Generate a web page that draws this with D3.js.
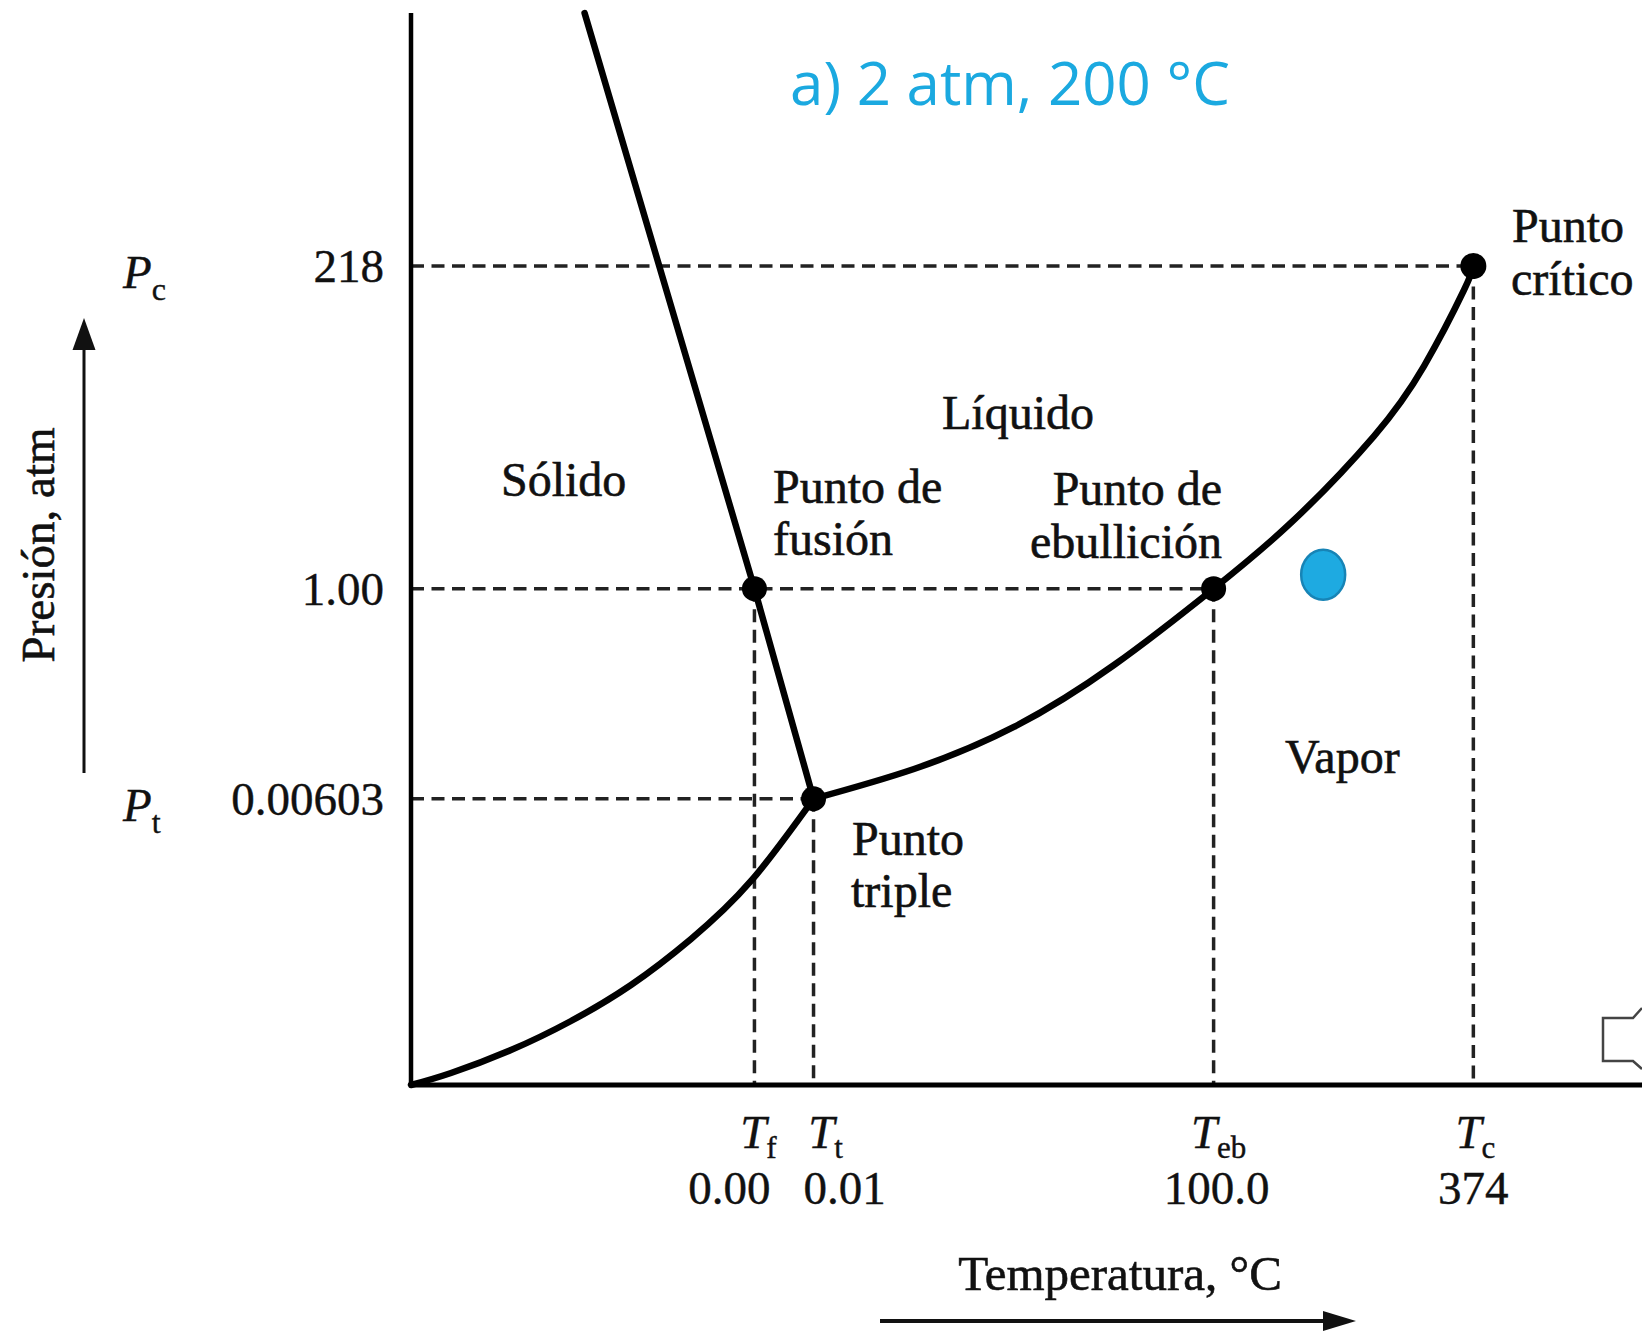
<!DOCTYPE html>
<html lang="es">
<head>
<meta charset="utf-8">
<title>Diagrama de fases del agua</title>
<script src="https://d3js.org/d3.v7.min.js"></script>
<style>
  body { margin: 0; background: #fff; }
  svg { display: block; }
  .lbl { font-family: "Liberation Serif", "DejaVu Serif", serif; fill: #111; stroke: #111; stroke-width: 0.6; }
  .tick { font-family: "Liberation Serif", serif; fill: #111; stroke: #111; stroke-width: 0.4; }
  .dash { fill: none; stroke: #222; stroke-width: 3.5; stroke-dasharray: 13 7.5; }
  .curve { fill: none; stroke: #000; stroke-width: 6.5; stroke-linejoin: round; stroke-linecap: round; }
</style>
</head>
<body>
<div id="chart"></div>
<script>
// diagram is schematic (not to scale) -> values in diagram units 0..100

// key states
var pointNames = ["fusion", "triple", "ebullicion", "critico"];
var pointX = [27.9, 32.7, 65.2, 86.3];
var pointY = [46.3, 26.7, 46.3, 76.4];

// x ticks (temperature)
var xTickPos = [27.9, 32.7, 65.2, 86.3];
var xTickSub = ["f", "t", "eb", "c"];
var xTickLabels = ["0.00", "0.01", "100.0", "374"];

// y ticks (pressure)
var yTickPos = [76.4, 46.3, 26.7];
var yTickLabels = ["218", "1.00", "0.00603"];
var yTickSub = ["c", "", "t"];

// phase boundaries
var sublimation = [[0, 0], [3.25, 1.12], [8.12, 3.26], [13.0, 5.97], [17.87, 9.33],
                   [22.75, 13.62], [27.62, 19.03], [32.7, 26.7]];
var vaporization = [[32.7, 26.7], [40.86, 29.48], [48.98, 33.4], [57.11, 39.18], [65.2, 46.3],
                    [71.73, 52.71], [78.23, 60.54], [82.29, 67.07], [85.54, 74.16], [86.3, 76.4]];
var melting = [[14.1, 100], [27.9, 46.3], [32.7, 26.7]];

// state asked for: 2 atm, 200 C
var marker = [74.1, 47.6];

var W = 1642, H = 1331;
var margin = {top: 13, right: 0, bottom: 246, left: 411},
    w = W - margin.left - margin.right,
    h = H - margin.top - margin.bottom;

var svg = d3.select("#chart").append("svg")
    .attr("width", W).attr("height", H);

var g = svg.append("g")
    .attr("transform", "translate(" + margin.left + "," + margin.top + ")");

var x = d3.scaleLinear().domain([0, 100]).range([0, w]);
var y = d3.scaleLinear().domain([0, 100]).range([h, 0]);

// dashed guides
var guides = g.append("g");
yTickPos.forEach(function(v, i) {
  var idx = [3, 2, 1][i];
  guides.append("line").attr("class", "dash")
    .attr("x1", x(0)).attr("x2", x(pointX[idx]))
    .attr("y1", y(v)).attr("y2", y(v));
});
xTickPos.forEach(function(v, i) {
  guides.append("line").attr("class", "dash")
    .attr("x1", x(v)).attr("x2", x(v))
    .attr("y1", y(pointY[i])).attr("y2", y(0));
});

// axes (plain lines, no ticks)
g.append("line").attr("x1", x(0)).attr("x2", x(0)).attr("y1", y(100)).attr("y2", y(0))
  .attr("stroke", "#000").attr("stroke-width", 4.5);
g.append("line").attr("x1", x(0) - 2).attr("x2", x(100)).attr("y1", y(0)).attr("y2", y(0))
  .attr("stroke", "#000").attr("stroke-width", 5);

// curves
var line = d3.line().x(function(d) { return x(d[0]); }).y(function(d) { return y(d[1]); });
g.append("path").attr("class", "curve").attr("d", line.curve(d3.curveNatural)(sublimation));
g.append("path").attr("class", "curve").attr("d", line.curve(d3.curveNatural)(vaporization));
g.append("path").attr("class", "curve").attr("d", line.curve(d3.curveLinear)(melting));

// points
g.selectAll(".pt").data(pointNames).enter().append("circle")
  .attr("class", "pt")
  .attr("cx", function(d, i) { return x(pointX[i]); })
  .attr("cy", function(d, i) { return y(pointY[i]); })
  .attr("r", function(d, i) { return i == 3 ? 13 : 12.5; })
  .attr("fill", "#000");

// blue marker
g.append("ellipse")
  .attr("cx", x(marker[0])).attr("cy", y(marker[1]))
  .attr("rx", 22).attr("ry", 25)
  .attr("fill", "#1eaae1").attr("stroke", "#1784b6").attr("stroke-width", 2.5);

// y tick labels
yTickLabels.forEach(function(t, i) {
  g.append("text").attr("class", "tick")
    .attr("x", -27).attr("y", y(yTickPos[i]) + 16)
    .attr("text-anchor", "end").style("font-size", "47px").text(t);
  if (yTickSub[i]) {
    var s = g.append("text").attr("class", "tick")
      .attr("x", 123 - margin.left).attr("y", y(yTickPos[i]) + 22)
      .style("font-size", "47px");
    s.append("tspan").style("font-style", "italic").text("P");
    s.append("tspan").attr("dy", 12).style("font-size", "32px").text(yTickSub[i]);
  }
});

// x tick labels
var symShift = [4, 12, 5, 2], numShift = [-25, 31, 3, 0];
xTickLabels.forEach(function(t, i) {
  var s = g.append("text").attr("class", "tick")
    .attr("x", x(xTickPos[i]) + symShift[i]).attr("y", h + 63)
    .attr("text-anchor", "middle").style("font-size", "47px");
  s.append("tspan").style("font-style", "italic").text("T");
  s.append("tspan").attr("dy", 10).style("font-size", "31px").text(xTickSub[i]);
  g.append("text").attr("class", "tick")
    .attr("x", x(xTickPos[i]) + numShift[i]).attr("y", h + 119)
    .attr("text-anchor", "middle").style("font-size", "47px").text(t);
});

// region and point labels
var labels = [
  {t: ["Sólido"], px: [501], py: [496], a: "start"},
  {t: ["Líquido"], px: [942], py: [429], a: "start"},
  {t: ["Vapor"], px: [1285], py: [773], a: "start"},
  {t: ["Punto de", "fusión"], px: [773, 773], py: [503, 555], a: "start"},
  {t: ["Punto de", "ebullición"], px: [1222, 1222], py: [505, 558], a: "end"},
  {t: ["Punto", "triple"], px: [852, 851], py: [855, 907], a: "start"},
  {t: ["Punto", "crítico"], px: [1512, 1511], py: [242, 295], a: "start"}
];
labels.forEach(function(l) {
  l.t.forEach(function(t, j) {
    svg.append("text").attr("class", "lbl")
      .attr("x", l.px[j]).attr("y", l.py[j])
      .attr("text-anchor", l.a).style("font-size", "48px").text(t);
  });
});

// axis titles with arrows
svg.append("text").attr("class", "lbl")
  .attr("transform", "translate(54,545) rotate(-90)")
  .attr("text-anchor", "middle").style("font-size", "47px").text("Presión, atm");
svg.append("line").attr("x1", 84).attr("x2", 84).attr("y1", 773).attr("y2", 340)
  .attr("stroke", "#111").attr("stroke-width", 3);
svg.append("path").attr("d", "M84,318 L95.5,350 L72.5,350 Z").attr("fill", "#111");

svg.append("text").attr("class", "lbl")
  .attr("x", 1120).attr("y", 1290)
  .attr("text-anchor", "middle").style("font-size", "49px").text("Temperatura, °C");
svg.append("line").attr("x1", 880).attr("x2", 1330).attr("y1", 1321).attr("y2", 1321)
  .attr("stroke", "#111").attr("stroke-width", 4);
svg.append("path").attr("d", "M1356,1321 L1323,1311 L1323,1331 Z").attr("fill", "#111");

// title
svg.append("text")
  .attr("x", 1010).attr("y", 105)
  .attr("text-anchor", "middle")
  .style("font-family", "'Open Sans', 'Noto Sans', sans-serif")
  .style("font-size", "60px").style("fill", "#1ba9e0")
  .text("a) 2 atm, 200 °C");

// speaker icon cut off at right edge
svg.append("path")
  .attr("d", "M1642,1008 L1633,1018 L1603,1018 L1603,1061 L1633,1061 L1642,1069")
  .attr("fill", "#fff").attr("stroke", "#444").attr("stroke-width", 2.5);
</script>
</body>
</html>
